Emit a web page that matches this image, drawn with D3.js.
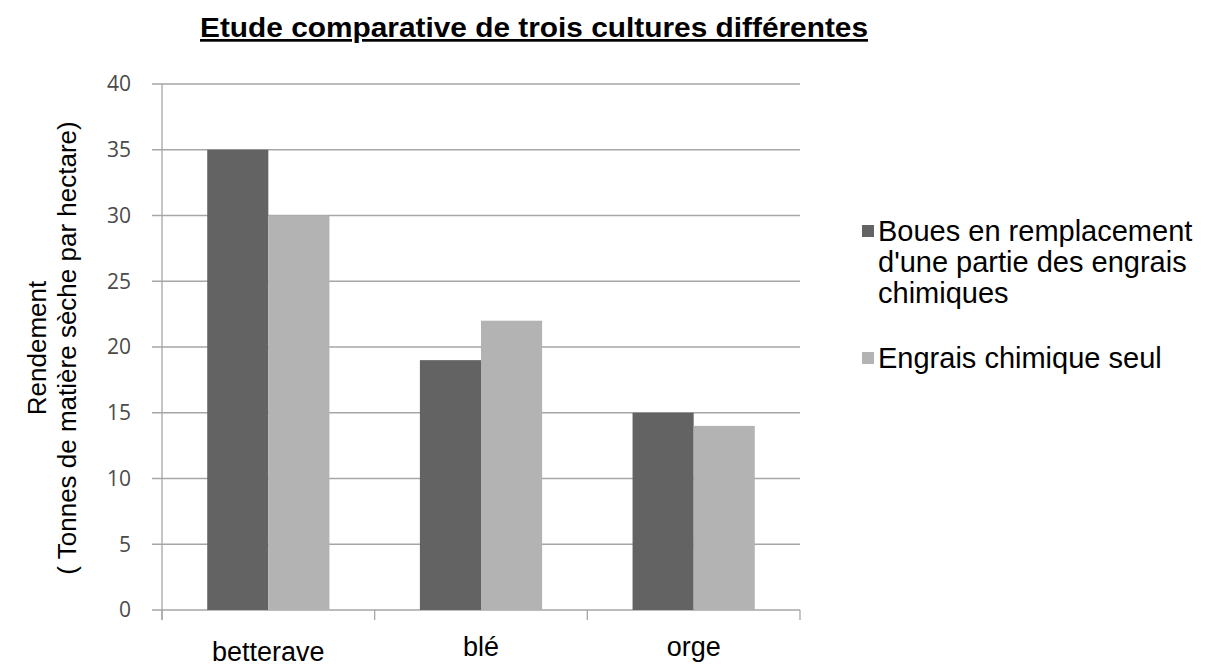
<!DOCTYPE html>
<html><head><meta charset="utf-8">
<script src="https://cdn.jsdelivr.net/npm/d3@7"></script>
<style>body{margin:0;background:#fff}</style>
</head><body>
<svg id="c" width="1213" height="669"></svg>
<script>
const categories = ["betterave", "blé", "orge"];
const seriesNames = ["Boues en remplacement d'une partie des engrais chimiques", "Engrais chimique seul"];
const boues = [35, 19, 15];
const engrais = [30, 22, 14];
const yTicks = [0, 5, 10, 15, 20, 25, 30, 35, 40];
const colors = ["#636363", "#b3b3b3"];

const svg = d3.select("#c");
const x0 = 162, x1 = 800, yB = 610, yT = 84;
const FONT = "Liberation Sans, Arial, sans-serif";
const x = d3.scaleBand().domain(categories).range([x0, x1]).paddingInner(0).paddingOuter(0);
const xs = d3.scaleBand().domain([0, 1]).range([0, x.bandwidth()]).paddingInner(0).paddingOuter(0.74);
const y = d3.scaleLinear().domain([0, 40]).range([yB, yT]);

// gridlines
svg.append("g").selectAll("line").data(yTicks).join("line")
  .attr("x1", x0 - 10).attr("x2", x1).attr("y1", d => y(d)).attr("y2", d => y(d))
  .attr("stroke", "#a6a6a6").attr("stroke-width", 1.3);
// y axis line
svg.append("line").attr("x1", x0).attr("x2", x0).attr("y1", yT).attr("y2", yB + 10)
  .attr("stroke", "#a6a6a6").attr("stroke-width", 1.3);
// x tick marks
const bounds = categories.map(c => x(c)).concat([x1]);
svg.append("g").selectAll("line").data(bounds).join("line")
  .attr("x1", d => d).attr("x2", d => d).attr("y1", yB).attr("y2", yB + 10)
  .attr("stroke", "#a6a6a6").attr("stroke-width", 1.3);

// y tick labels
svg.append("g").selectAll("text").data(yTicks).join("text")
  .attr("x", 131).attr("y", d => y(d)).attr("dy", "0.35em")
  .attr("text-anchor", "end").attr("font-family", "Open Sans, sans-serif")
  .attr("font-size", 21).attr("fill", "#4a4a4a").text(d => d);

// bars
const data = categories.map((c, i) => ({c, vals: [boues[i], engrais[i]]}));
const g = svg.append("g").selectAll("g").data(data).join("g")
  .attr("transform", d => `translate(${x(d.c)},0)`);
g.selectAll("rect").data(d => d.vals.map((v, k) => ({v, k}))).join("rect")
  .attr("x", d => xs(d.k)).attr("width", xs.bandwidth())
  .attr("y", d => y(d.v)).attr("height", d => yB - y(d.v))
  .attr("fill", d => colors[d.k]);

// category labels
svg.append("g").selectAll("text").data(categories).join("text")
  .attr("x", d => x(d) + x.bandwidth() / 2)
  .attr("y", (d, i) => i === 0 ? 661 : 656)
  .attr("text-anchor", "middle").attr("font-family", FONT)
  .attr("font-size", 27).attr("fill", "#000").text(d => d);

// title
svg.append("text").attr("x", 534).attr("y", 37).attr("text-anchor", "middle")
  .attr("font-family", FONT).attr("font-weight", "bold")
  .attr("font-size", 27).attr("text-decoration", "underline")
  .attr("textLength", 668).attr("lengthAdjust", "spacingAndGlyphs")
  .text("Etude comparative de trois cultures différentes");

// y title
const yt = svg.append("text").attr("transform", "translate(0,348) rotate(-90)")
  .attr("text-anchor", "middle").attr("font-family", FONT)
  .attr("font-size", 26);
yt.append("tspan").attr("x", 0).attr("y", 46).text("Rendement");
yt.append("tspan").attr("x", 0).attr("y", 76).text("( Tonnes de matière sèche par hectare)");

// legend
const legendLines = [["Boues en remplacement", "d'une partie des engrais", "chimiques"], ["Engrais chimique seul"]];
const legY = [231, 358];
legendLines.forEach((lines, k) => {
  svg.append("rect").attr("x", 862).attr("y", legY[k] - 6).attr("width", 12).attr("height", 12).attr("fill", colors[k]);
  const t = svg.append("text").attr("font-family", FONT).attr("font-size", 29).attr("fill", "#000");
  lines.forEach((l, j) => t.append("tspan").attr("x", 878).attr("y", legY[k] + 31 * j).attr("dy", "0.35em").text(l));
});
</script>
</body></html>
